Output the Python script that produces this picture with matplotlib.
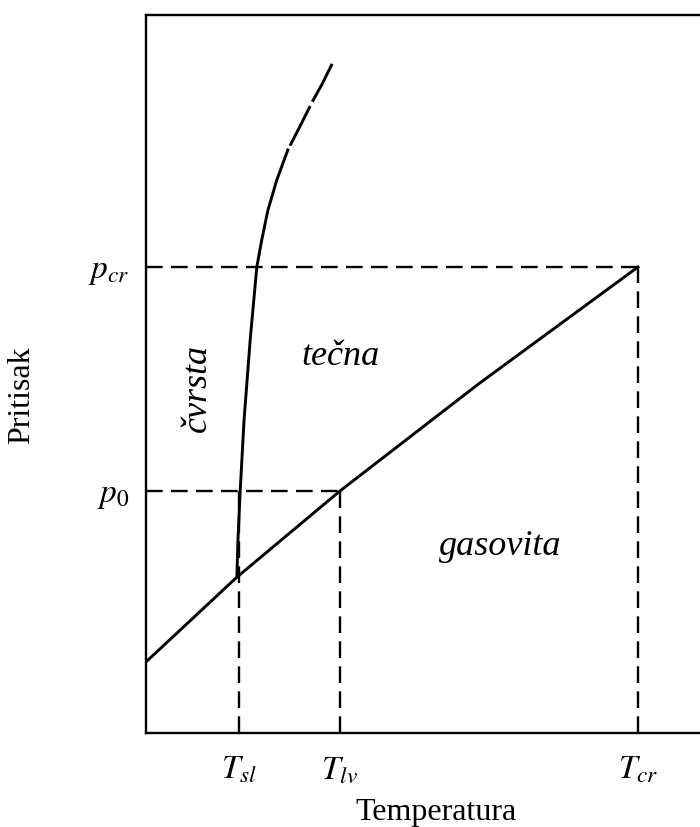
import matplotlib
matplotlib.use("Agg")
import matplotlib.pyplot as plt

plt.rcParams['font.family'] = ['Liberation Serif', 'DejaVu Serif']
plt.rcParams['mathtext.fontset'] = 'stix'
plt.rcParams['lines.scale_dashes'] = False

# phase diagram, arbitrary units (0-100 on both axes)
# sublimation + vaporization curve
vap_T = [0.0, 16.4, 35.0, 60.0, 88.8]
vap_p = [9.9, 21.7, 33.7, 48.6, 64.9]

# melting curve, solid part
melt_T = [16.4, 16.6, 17.0, 17.7, 18.8, 20.0, 20.9, 22.0, 23.6, 25.6]
melt_p = [21.7, 26.9, 33.7, 43.6, 54.7, 64.9, 68.7, 72.8, 77.0, 81.2]
# melting curve, broken continuation
melt2_T = [26.0, 27.8, 30.0, 31.8, 33.6]
melt2_p = [81.8, 84.5, 87.9, 90.4, 93.2]

T_sl, T_lv, T_cr = 16.8, 35.0, 88.8
p_0, p_cr = 33.7, 64.9

x_ticks = [T_sl, T_lv, T_cr]
x_labels = [r'$T_{sl}$', r'$T_{lv}$', r'$T_{cr}$']
y_ticks = [p_0, p_cr]
y_labels = [r'$p_{0}$', r'$p_{cr}$']

W, H = 700, 827
fig = plt.figure(figsize=(W / 100, H / 100), dpi=100)
ax = fig.add_axes([146 / W, (H - 733) / H, (W - 146) / W, 718 / H])
ax.set_xlim(0, 100)
ax.set_ylim(0, 100)

dash = (0, (12, 6))
ax.plot(vap_T, vap_p, color='black', lw=2.1)
ax.plot(melt_T, melt_p, color='black', lw=2.1)
ax.plot(melt2_T, melt2_p, color='black', lw=2.1, linestyle=(0, (32, 3.5)))

ax.plot([0, T_cr], [p_cr, p_cr], color='black', lw=1.7, linestyle=dash)
ax.plot([0, T_lv], [p_0, p_0], color='black', lw=1.7, linestyle=dash)
ax.plot([T_sl, T_sl], [0, p_0], color='black', lw=1.7, linestyle=dash)
ax.plot([T_lv, T_lv], [0, p_0], color='black', lw=1.7, linestyle=dash)
ax.plot([T_cr, T_cr], [0, p_cr], color='black', lw=1.7, linestyle=dash)

ax.spines['right'].set_visible(False)
for s in ['left', 'top', 'bottom']:
    ax.spines[s].set_linewidth(1.7)

ax.set_xticks(x_ticks)
ax.set_xticklabels(x_labels, fontsize=24)
ax.set_yticks(y_ticks)
ax.set_yticklabels(y_labels, fontsize=24)
ax.tick_params(axis='x', length=0, pad=16)
ax.tick_params(axis='y', length=0, pad=12)

kw = dict(fontsize=26, style='italic')
fig.text(341 / W, 1 - 365 / H, 'tečna', ha='center', va='baseline', **kw)
fig.text(500 / W, 1 - 555 / H, 'gasovita', ha='center', va='baseline', **kw)
fig.text(197 / W, 1 - 388 / H, 'čvrsta', ha='center', va='center', rotation=90, **kw)

fig.text(436 / W, 1 - 820 / H, 'Temperatura', ha='center', va='baseline', fontsize=23)
fig.text(22 / W, 1 - 395 / H, 'Pritisak', ha='center', va='center', rotation=90, fontsize=23)

fig.savefig('out.png', dpi=100)
